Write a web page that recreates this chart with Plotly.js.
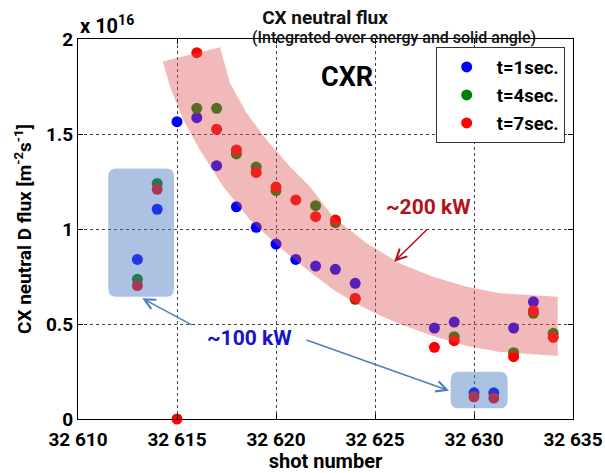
<!DOCTYPE html>
<html>
<head>
<meta charset="utf-8">
<script src="https://cdn.plot.ly/plotly-3.0.1.min.js"></script>
<style>html,body{margin:0;padding:0;background:#fff;}#chart{width:605px;height:473px;}</style>
</head>
<body>
<div id="chart"></div>
<script>
// ---- data (flux in units of 1e16 m^-2 s^-1) ----
const shots   = [32613, 32614, 32615, 32616, 32617, 32618, 32619, 32620, 32621, 32622, 32623, 32624, 32628, 32629, 32630, 32631, 32632, 32633, 32634];
const flux_t1 = [0.84, 1.104, 1.565, 1.586, 1.333, 1.117, 1.009, 0.921, 0.84, 0.805, 0.788, 0.714, 0.479, 0.51, 0.138, 0.138, 0.479, 0.617, null];
const flux_t4 = [0.735, 1.24, null, 1.635, 1.635, 1.395, 1.326, 1.202, null, 1.123, 1.033, 0.63, null, 0.433, null, null, 0.349, 0.556, 0.451];
const flux_t7 = [0.702, 1.209, 0.0, 1.928, 1.525, 1.416, 1.298, 1.221, 1.153, 1.065, 1.047, 0.635, 0.377, 0.412, 0.117, 0.11, 0.328, 0.57, 0.43];
const seriesNames = ['t=1sec.', 't=4sec.', 't=7sec.'];
const xTickVals = [32610, 32615, 32620, 32625, 32630, 32635];
const xTickText = ['32 610', '32 615', '32 620', '32 625', '32 630', '32 635'];
const yTickVals = [0, 0.5, 1, 1.5, 2];
const yTickText = ['0', '0.5', '1', '1.5', '2'];

// ---- decoration geometry (annotation band / boxes) ----
const bandUpper = [[32617.17,1.956],[32617.68,1.767],[32618.52,1.609],[32619.53,1.468],[32620.71,1.328],[32621.72,1.223],[32622.88,1.065],[32624.58,0.925],[32626.26,0.819],[32627.93,0.749],[32629.63,0.696],[32631.31,0.662],[32634.23,0.644]];
const bandLower = [[32634.23,0.332],[32631.31,0.353],[32629.63,0.384],[32627.93,0.437],[32626.26,0.5],[32625.25,0.545],[32624.04,0.608],[32622.88,0.682],[32621.72,0.774],[32620.35,0.889],[32618.69,1.047],[32617.34,1.223],[32616.16,1.416],[32615.32,1.574],[32614.65,1.749],[32614.28,1.881]];

function polyPath(pts){
  return pts.map((p,i)=>(i===0?'M':'L')+p[0]+','+p[1]).join(' ')+' Z';
}
function roundRect(x0,x1,y0,y1,rx,ry){
  return 'M'+(x0+rx)+','+y0+' L'+(x1-rx)+','+y0+' Q'+x1+','+y0+' '+x1+','+(y0+ry)+
         ' L'+x1+','+(y1-ry)+' Q'+x1+','+y1+' '+(x1-rx)+','+y1+
         ' L'+(x0+rx)+','+y1+' Q'+x0+','+y1+' '+x0+','+(y1-ry)+
         ' L'+x0+','+(y0+ry)+' Q'+x0+','+y0+' '+(x0+rx)+','+y0+' Z';
}
const bold = s => '<b>'+s+'</b>';

const FONT = 'Roboto, "Open Sans", sans-serif';
const colors = ['#0000ff', '#008000', '#ff0000'];
const ys = [flux_t1, flux_t4, flux_t7];

const traces = ys.map((y,i)=>({
  type:'scatter', mode:'markers', x:shots, y:y, name:bold(seriesNames[i]),
  legendgroup:'g'+i, cliponaxis:false,
  marker:{color:colors[i], size:11, line:{width:0}}
}));

const layout = {
  width:605, height:473,
  margin:{l:78, r:32, t:39, b:54},
  paper_bgcolor:'#ffffff', plot_bgcolor:'#ffffff',
  font:{family:FONT, color:'#111'},
  showlegend:true,
  title:{text:bold('CX neutral flux'), font:{size:19, family:FONT, color:'#111'},
         x:0.499, xref:'paper', xanchor:'center', y:1-17.5/473, yref:'container', yanchor:'middle'},
  xaxis:{
    range:[32610, 32635], tickmode:'array', tickvals:xTickVals, ticktext:xTickText.map(bold),
    showline:true, linecolor:'#000', linewidth:1, mirror:'ticks',
    ticks:'inside', ticklen:5, tickcolor:'#000', ticklabelstandoff:3,
    showgrid:true, gridcolor:'#444', griddash:'dot', gridwidth:1, zeroline:false,
    tickfont:{size:19, family:FONT, color:'#000'},
    title:{text:bold('shot number'), font:{size:20, family:FONT, color:'#000'}, standoff:2}
  },
  yaxis:{
    range:[0, 2], tickmode:'array', tickvals:yTickVals, ticktext:yTickText.map(bold),
    showline:true, linecolor:'#000', linewidth:1, mirror:'ticks',
    ticks:'inside', ticklen:5, tickcolor:'#000',
    showgrid:true, gridcolor:'#444', griddash:'dot', gridwidth:1, zeroline:false,
    tickfont:{size:19, family:FONT, color:'#000'},
    title:{text:bold('CX neutral D flux [m<sup>-2</sup>s<sup>-1</sup>]'), font:{size:19, family:FONT, color:'#000'}, standoff:9}
  },
  legend:{
    x:0.7226, y:0.978, xanchor:'left', yanchor:'top',
    bgcolor:'#ffffff', bordercolor:'#333', borderwidth:1,
    font:{size:18.5, family:FONT, color:'#000'},
    itemwidth:50, traceorder:'grouped', tracegroupgap:1
  },
  shapes:[
    {type:'path', xref:'x', yref:'y', layer:'above', path:polyPath(bandUpper.concat(bandLower)),
     fillcolor:'rgba(220,80,80,0.40)', line:{width:0}},
    {type:'path', xref:'x', yref:'y', layer:'above', path:roundRect(32611.53,32614.85,0.644,1.319,0.4,0.042),
     fillcolor:'rgba(70,120,190,0.45)', line:{width:0}},
    {type:'path', xref:'x', yref:'y', layer:'above', path:roundRect(32628.82,32631.70,0.056,0.249,0.4,0.042),
     fillcolor:'rgba(70,120,190,0.45)', line:{width:0}}
  ],
  annotations:[
    {text:'(Integrated over energy and solid angle)', xref:'paper', yref:'paper', x:(394-78)/495, y:(419-37.6)/380,
     xanchor:'center', yanchor:'middle', showarrow:false, font:{size:16, family:FONT, color:'#111', weight:500}},
    {text:bold('x 10<sup>16</sup>'), xref:'paper', yref:'paper', x:0, y:(419-25)/380, xanchor:'left', yanchor:'middle',
     showarrow:false, font:{size:20, family:FONT, color:'#000'}},
    {text:bold('CXR'), xref:'x', yref:'y', x:32623.57, y:1.80, showarrow:false, font:{size:27, family:FONT, color:'#000'}},
    {text:bold('~200 kW'), xref:'x', yref:'y', x:32627.68, y:1.116, showarrow:false, font:{size:21, family:FONT, color:'#b3121c'}},
    {text:bold('~100 kW'), xref:'x', yref:'y', x:32618.64, y:0.426, showarrow:false, font:{size:21, family:FONT, color:'#1414c8'}},
    {text:'', xref:'x', yref:'y', axref:'x', ayref:'y', x:32625.97, y:0.828, ax:32627.69, ay:1.004,
     showarrow:true, arrowhead:5, arrowsize:1.4, arrowwidth:1.5, arrowcolor:'#b3121c', standoff:0},
    {text:'', xref:'x', yref:'y', axref:'x', ayref:'y', x:32613.25, y:0.635, ax:32615.82, ay:0.491,
     showarrow:true, arrowhead:5, arrowsize:1.4, arrowwidth:1.5, arrowcolor:'#4a7fc0', standoff:0},
    {text:'', xref:'x', yref:'y', axref:'x', ayref:'y', x:32628.74, y:0.149, ax:32621.46, ay:0.419,
     showarrow:true, arrowhead:5, arrowsize:1.4, arrowwidth:1.5, arrowcolor:'#4a7fc0', standoff:0}
  ]
};

Plotly.newPlot('chart', traces, layout, {displayModeBar:false, staticPlot:true});
</script>
</body>
</html>
